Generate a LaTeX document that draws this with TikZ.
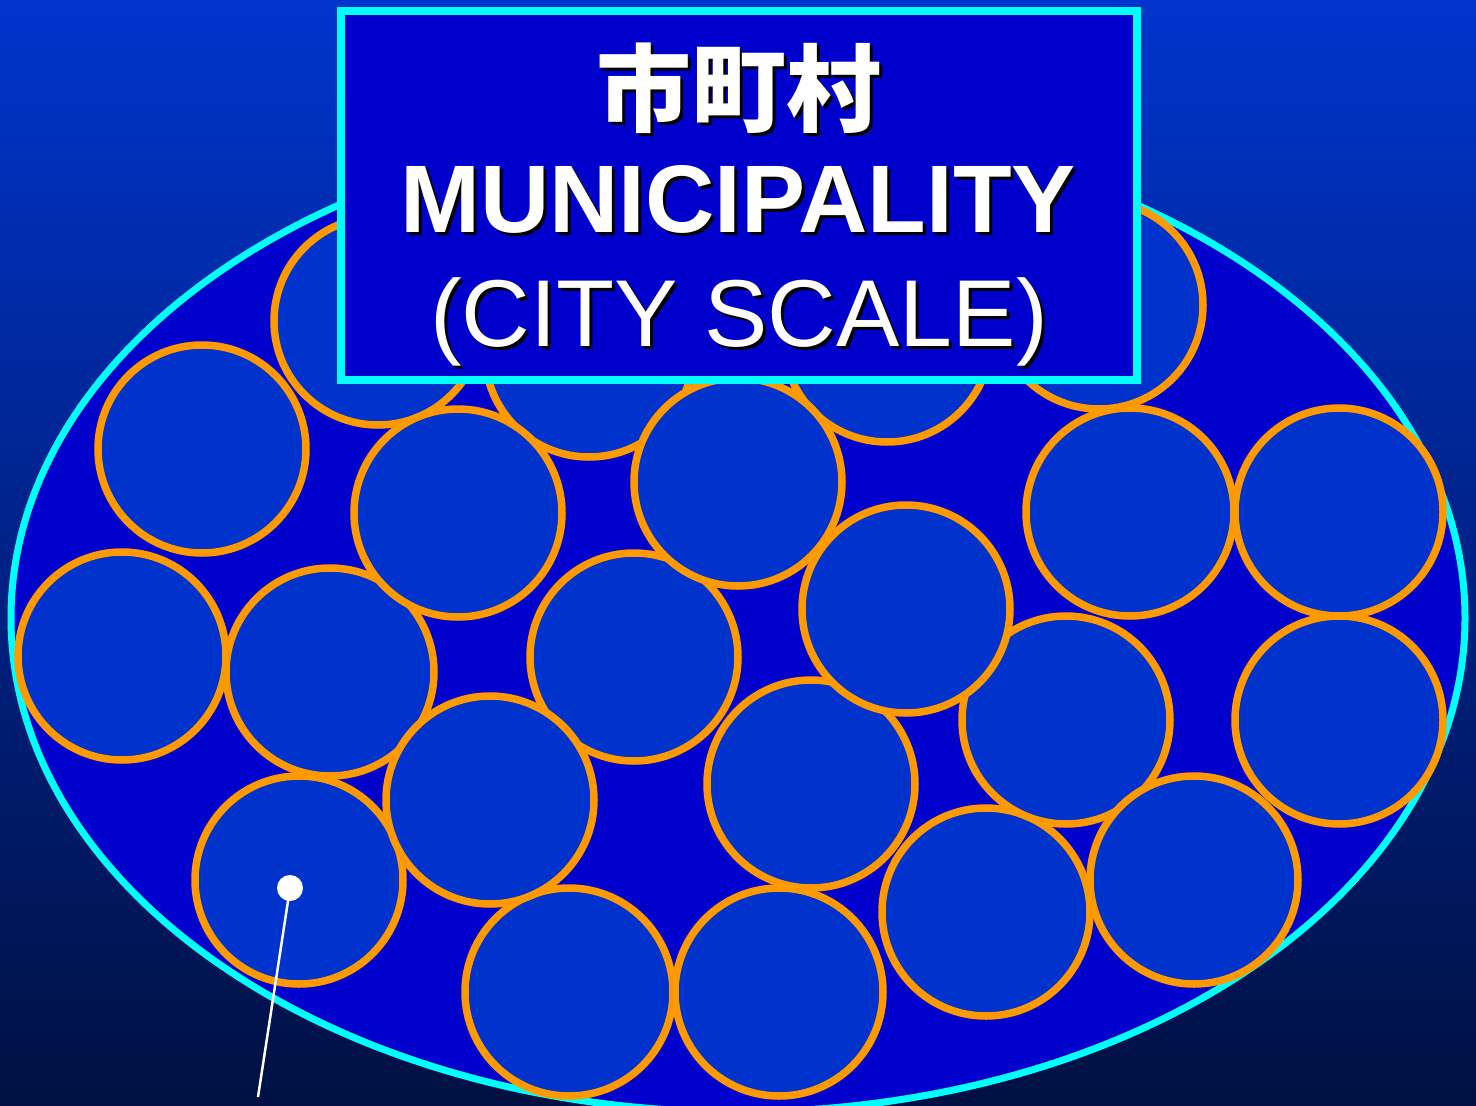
\documentclass[tikz,border=0pt]{standalone}
\usepackage{fontspec}
\setmainfont{Liberation Sans}
\newfontfamily\cjkfont{Noto Sans CJK JP}
\definecolor{bgtop}{RGB}{0,52,204}
\definecolor{bgbot}{RGB}{0,16,66}
\definecolor{ellblue}{RGB}{0,0,204}
\definecolor{cellblue}{RGB}{0,51,204}
\definecolor{ringorange}{RGB}{255,153,0}
\definecolor{rimcyan}{RGB}{0,255,255}
\tikzset{
  cell/.style={circle, draw=ringorange, fill=cellblue, line width=7.5pt, minimum size=208pt, inner sep=0pt},
  titlebox/.style={draw=rimcyan, fill=ellblue, line width=8pt, minimum width=796pt, minimum height=369pt, inner sep=0pt},
  bigtxt/.style={inner sep=0pt, font=\fontsize{95}{100}\selectfont},
  pin/.style={circle, fill=white, minimum size=26pt, inner sep=0pt},
}
\begin{document}
\begin{tikzpicture}[x=1pt,y=-1pt]
\useasboundingbox (0,0) rectangle (1476,1106);
\clip (0,0) rectangle (1476,1106);
\shade[top color=bgtop, bottom color=bgbot] (0,0) rectangle (1476,1106);
% municipality ellipse
\draw[draw=rimcyan, fill=ellblue, line width=7pt] (738,618) ellipse [x radius=727, y radius=494];
% cells
\node[cell] (c1)  at (378,321) {};
\node[cell] (c2)  at (589,353) {};
\node[cell] (c3)  at (887,338) {};
\node[cell] (c4)  at (1099,305) {};
\node[cell] (c5)  at (202,449) {};
\node[cell] (c8)  at (1130,512) {};
\node[cell] (c9)  at (1339,512) {};
\node[cell] (c10) at (122,656) {};
\node[cell] (c11) at (330,672) {};
\node[cell] (c12) at (634,657) {};
\node[cell] (c15) at (1339,720) {};
\node[cell] (c17) at (811,784) {};
\node[cell] (c18) at (299,880) {};
\node[cell] (c19) at (986,912) {};
\node[cell] (c21) at (569,992) {};
\node[cell] (c22) at (779,992) {};
\node[cell] (c14) at (1066,720) {};
\node[cell] (c20) at (1194,880) {};
\node[cell] (c13) at (906,609) {};
\node[cell] (c6)  at (458,513) {};
\node[cell] (c16) at (490,800) {};
\node[cell] (c7)  at (738,482) {};
% pin
\node[pin] (dot) at (290,888) {};
\coordinate (dotend) at (258,1097);
\draw[white, line width=2.5pt] (dot.center) -- (dotend);
% title box
\node[titlebox] (title) at (739,195.5) {};
\node[bigtxt, black, anchor=center] (t1s) at (742,91) {\cjkfont\bfseries 市町村};
\node[bigtxt, white, anchor=center] (t1)  at (739,88) {\cjkfont\bfseries 市町村};
\node[bigtxt, black, anchor=base, font=\fontsize{96}{100}\selectfont] (t2s) at (741,235) {\bfseries MUNICIPALITY};
\node[bigtxt, white, anchor=base, font=\fontsize{96}{100}\selectfont] (t2)  at (738,232) {\bfseries MUNICIPALITY};
\node[bigtxt, black, anchor=base] (t3s) at (742,349) {(CITY SCALE)};
\node[bigtxt, white, anchor=base] (t3)  at (739,346) {(CITY SCALE)};
\end{tikzpicture}
\end{document}
